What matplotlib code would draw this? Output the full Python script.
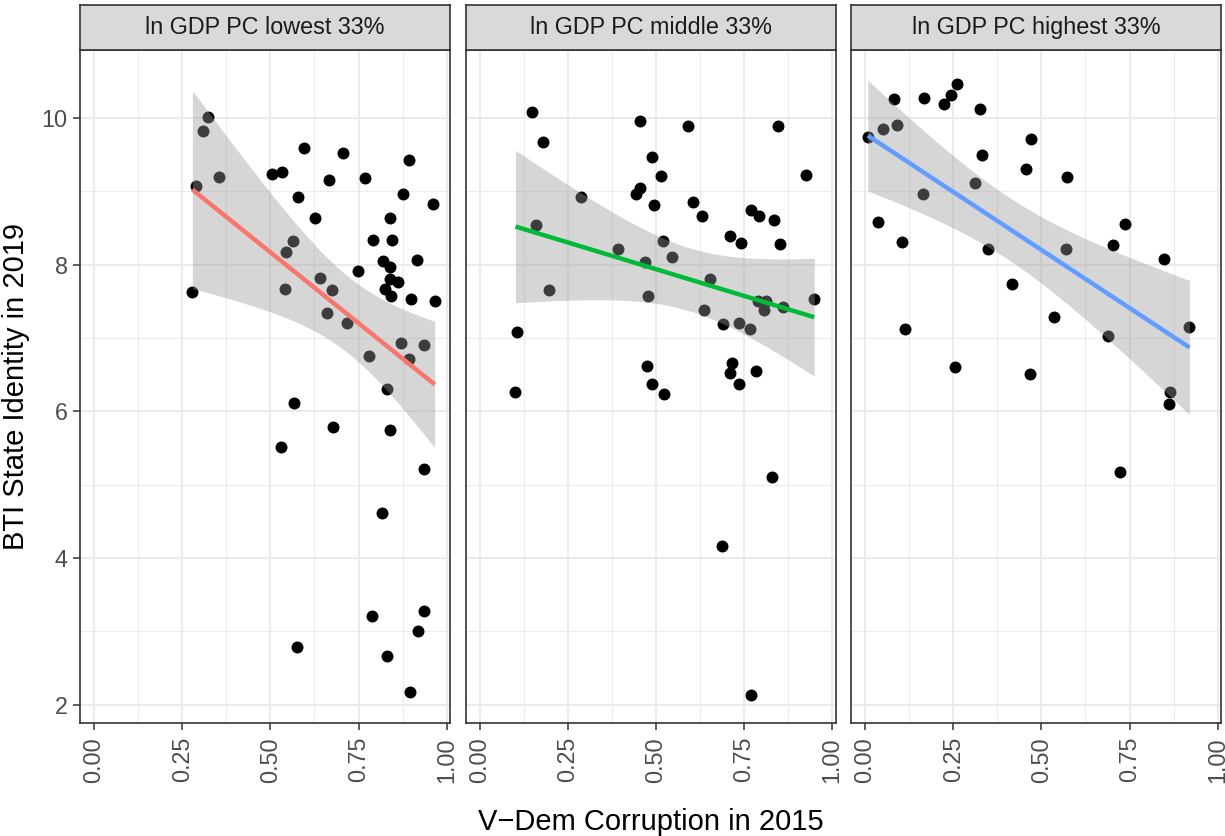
import numpy as np
import matplotlib
matplotlib.use("Agg")
import matplotlib.pyplot as plt

plt.rcParams['font.family'] = ['Liberation Sans', 'DejaVu Sans']

# ---------------- data ----------------
panel_titles = ["ln GDP PC lowest 33%", "ln GDP PC middle 33%", "ln GDP PC highest 33%"]
line_colors = ["#F8766D", "#00BA38", "#619CFF"]

low_x = [0.322, 0.308, 0.354, 0.289, 0.279, 0.596, 0.706, 0.893, 0.505, 0.533,
         0.667, 0.768, 0.578, 0.875, 0.962, 0.627, 0.839, 0.563, 0.543, 0.790,
         0.845, 0.819, 0.840, 0.916, 0.748, 0.839, 0.863, 0.825, 0.841, 0.900,
         0.966, 0.541, 0.640, 0.676, 0.662, 0.716, 0.779, 0.870, 0.937, 0.892,
         0.832, 0.566, 0.678, 0.840, 0.530, 0.936, 0.816, 0.787, 0.935, 0.918,
         0.576, 0.831, 0.895]
low_y = [10.01, 9.83, 9.20, 9.08, 7.63, 9.59, 9.52, 9.43, 9.24, 9.27,
         9.15, 9.19, 8.93, 8.97, 8.83, 8.64, 8.64, 8.33, 8.17, 8.34,
         8.34, 8.05, 7.97, 8.06, 7.92, 7.80, 7.77, 7.67, 7.58, 7.54,
         7.51, 7.67, 7.82, 7.65, 7.34, 7.20, 6.76, 6.93, 6.91, 6.71,
         6.30, 6.11, 5.79, 5.74, 5.52, 5.22, 4.61, 3.21, 3.28, 3.00,
         2.79, 2.66, 2.17]

mid_x = [0.150, 0.456, 0.591, 0.845, 0.180, 0.490, 0.514, 0.925, 0.456, 0.444,
         0.287, 0.495, 0.604, 0.632, 0.771, 0.793, 0.836, 0.161, 0.710, 0.741,
         0.853, 0.520, 0.393, 0.546, 0.469, 0.653, 0.198, 0.477, 0.949, 0.789,
         0.811, 0.806, 0.861, 0.636, 0.691, 0.735, 0.768, 0.105, 0.474, 0.717,
         0.711, 0.783, 0.102, 0.490, 0.524, 0.736, 0.828, 0.687, 0.770]
mid_y = [10.08, 9.96, 9.90, 9.90, 9.67, 9.47, 9.21, 9.22, 9.05, 8.97,
         8.92, 8.81, 8.86, 8.67, 8.75, 8.67, 8.61, 8.54, 8.39, 8.30,
         8.29, 8.33, 8.21, 8.11, 8.04, 7.81, 7.65, 7.57, 7.54, 7.51,
         7.50, 7.39, 7.43, 7.38, 7.19, 7.20, 7.12, 7.08, 6.62, 6.66,
         6.52, 6.55, 6.26, 6.38, 6.24, 6.37, 5.10, 4.16, 2.13]

high_x = [0.262, 0.243, 0.223, 0.081, 0.167, 0.327, 0.091, 0.050, 0.008, 0.470,
          0.333, 0.457, 0.574, 0.313, 0.164, 0.038, 0.737, 0.106, 0.350, 0.571,
          0.703, 0.847, 0.417, 0.537, 0.112, 0.688, 0.920, 0.255, 0.467, 0.865,
          0.861, 0.722]
high_y = [10.47, 10.31, 10.19, 10.26, 10.27, 10.13, 9.91, 9.85, 9.74, 9.71,
          9.50, 9.30, 9.20, 9.12, 8.96, 8.58, 8.56, 8.31, 8.21, 8.22,
          8.27, 8.08, 7.74, 7.29, 7.12, 7.03, 7.15, 6.61, 6.51, 6.27,
          6.10, 5.17]

x_ticks = [0.00, 0.25, 0.50, 0.75, 1.00]
x_ticklabels = ["0.00", "0.25", "0.50", "0.75", "1.00"]
y_ticks = [2, 4, 6, 8, 10]
x_title = "V\u2212Dem Corruption in 2015"
y_title = "BTI State Identity in 2019"

panels = [(low_x, low_y), (mid_x, mid_y), (high_x, high_y)]


def t975(df):
    z = 1.959964
    return (z + (z**3 + z) / (4 * df) + (5 * z**5 + 16 * z**3 + 3 * z) / (96 * df**2)
            + (3 * z**7 + 19 * z**5 + 17 * z**3 - 15 * z) / (384 * df**3))


# ---------------- layout ----------------
W, H = 1225, 836
fig = plt.figure(figsize=(W / 100, H / 100), dpi=100)
fig.patch.set_facecolor("white")

left0, top, bottom = 80, 50, 723
pw, gap = 370, 15.5
strip_top = 5

xlim = (-0.0397, 1.0094)
ylim = (1.75, 10.93)

border = "#333333"
tick_fs = 16.8

for i, ((xs, ys), title, col) in enumerate(zip(panels, panel_titles, line_colors)):
    l = left0 + i * (pw + gap)
    ax = fig.add_axes([l / W, 1 - bottom / H, pw / W, (bottom - top) / H])
    ax.set_facecolor("white")
    ax.set_xlim(*xlim)
    ax.set_ylim(*ylim)
    ax.set_xticks(x_ticks)
    ax.set_xticklabels(x_ticklabels, rotation=90, va="top", ha="center")
    ax.set_xticks([0.125, 0.375, 0.625, 0.875], minor=True)
    ax.set_yticks(y_ticks)
    ax.set_yticks([3, 5, 7, 9], minor=True)
    ax.grid(True, which="major", color="#EBEBEB", linewidth=1.5)
    ax.grid(True, which="minor", color="#EBEBEB", linewidth=0.75)
    ax.set_axisbelow(True)
    ax.tick_params(which="minor", length=0)
    ax.tick_params(which="major", length=5, width=1.1, color=border,
                   labelsize=tick_fs, labelcolor="#4D4D4D")
    ax.tick_params(axis="x", pad=5)
    ax.tick_params(axis="y", pad=4)
    if i > 0:
        ax.tick_params(axis="y", which="both", left=False, labelleft=False)
    for s in ax.spines.values():
        s.set_color(border)
        s.set_linewidth(1.2)
        s.set_zorder(10)

    xa = np.asarray(xs)
    ya = np.asarray(ys)
    ax.scatter(xa, ya, s=74, color="black", linewidths=0, zorder=2)

    # linear fit with 95% CI
    n = len(xa)
    xm = xa.mean()
    sxx = ((xa - xm) ** 2).sum()
    b1 = ((xa - xm) * (ya - ya.mean())).sum() / sxx
    b0 = ya.mean() - b1 * xm
    resid = ya - (b0 + b1 * xa)
    s_err = np.sqrt((resid ** 2).sum() / (n - 2))
    xg = np.linspace(xa.min(), xa.max(), 80)
    yg = b0 + b1 * xg
    se = s_err * np.sqrt(1 / n + (xg - xm) ** 2 / sxx)
    tq = t975(n - 2)
    ax.fill_between(xg, yg - tq * se, yg + tq * se, color="#999999", alpha=0.4,
                    linewidth=0, zorder=3)
    ax.plot(xg, yg, color=col, linewidth=3.2, zorder=4, solid_capstyle="butt")

    # strip
    sax = fig.add_axes([l / W, 1 - top / H, pw / W, (top - strip_top) / H])
    sax.set_facecolor("#D9D9D9")
    sax.set_xticks([])
    sax.set_yticks([])
    for s in sax.spines.values():
        s.set_color(border)
        s.set_linewidth(1.2)
    sax.text(0.5, 0.5, title, ha="center", va="center", fontsize=tick_fs,
             color="#1A1A1A", transform=sax.transAxes)

fig.text((left0 + 1221) / 2 / W, 1 - 822 / H, x_title, ha="center", va="center",
         fontsize=21, color="black")
fig.text(16 / W, 1 - (top + bottom) / 2 / H, y_title, ha="center", va="center",
         rotation=90, fontsize=21, color="black")

fig.savefig("out.png", dpi=100, facecolor="white")
